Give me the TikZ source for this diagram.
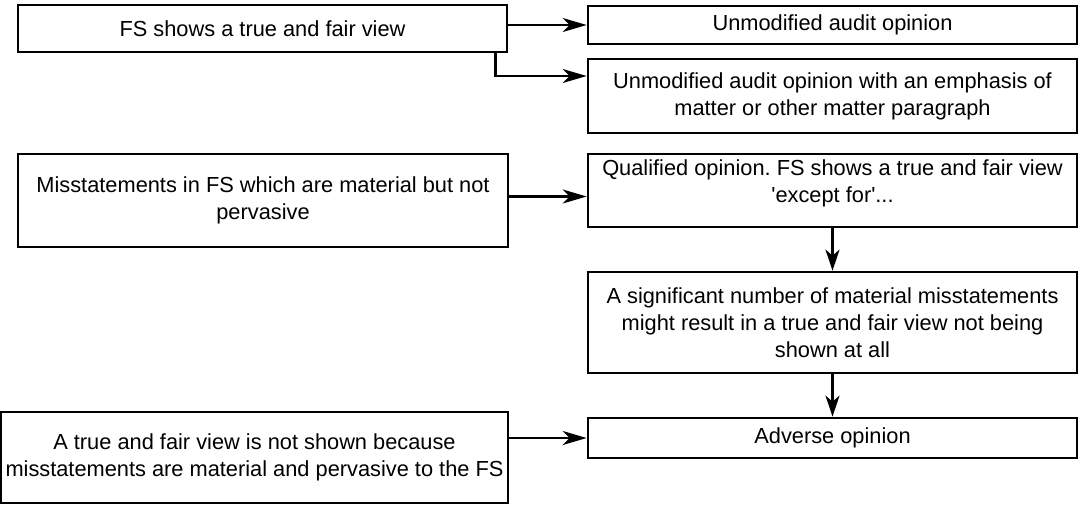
\documentclass[tikz,border=0pt]{standalone}
\usepackage{fontspec}
\setmainfont{Liberation Sans}
\usetikzlibrary{arrows.meta, positioning}
\frenchspacing

\begin{document}
\begin{tikzpicture}[x=0.5pt, y=-0.5pt,
  box/.style={
    draw, line width=1.35pt, inner sep=0pt, align=center,
    font=\fontsize{10.9}{13.5}\selectfont
  },
  leftbox/.style={box, minimum width=245pt},
  rightbox/.style={box, minimum width=244.5pt},
  flow/.style={-{Stealth[length=12pt, width=7pt, inset=3.5pt]}, line width=1.4pt},
  down/.style={-{Stealth[length=10.5pt, width=7pt, inset=3pt]}, line width=1.4pt}
]
\useasboundingbox (0,0) rectangle (1079,504);

% Left column: what the FS show
\node[leftbox, minimum width=244.5pt, minimum height=23.5pt] (fs) at (262.5, 28.5) {FS shows a true and fair view};
\node[leftbox, minimum height=46.5pt] (mis) at (263, 200.5) {Misstatements in FS which are material but not\\pervasive};
\node[leftbox, minimum width=253.5pt, minimum height=45.5pt] (tfv) at (254.5, 457.5) {A true and fair view is not shown because\\misstatements are material and pervasive to the FS};

% Right column: the opinions
\node[rightbox, minimum height=19pt] (unmod) at (832.5, 25) {Unmodified audit opinion};
\node[rightbox, minimum height=37pt] (emph) at (832.5, 96) {Unmodified audit opinion with an emphasis of\\matter or other matter paragraph};
\node[rightbox, minimum height=36.5pt] (qual) at (832.5, 190.5) {Qualified opinion. FS shows a true and fair view\\\textquotesingle except for\textquotesingle...\\[-4pt]\mbox{}};
\node[rightbox, minimum height=50.5pt] (sig) at (832.5, 322.5) {A significant number of material misstatements\\might result in a true and fair view not being\\shown at all};
\node[rightbox, minimum height=20pt] (adv) at (832.5, 438) {Adverse opinion};

% Connectors
\draw[flow] (unmod.west -| fs.east) -- (unmod.west);
\draw[flow] ([xshift=-6.5pt]fs.south east) |- ([yshift=10pt]emph.west);
\draw[flow] ([yshift=2pt]mis.east) -- ([yshift=2pt]mis.east -| qual.west);
\draw[down] (qual.south) -- (sig.north);
\draw[down] (sig.south) -- (adv.north);
\draw[flow] (adv.west -| tfv.east) -- (adv.west);

\end{tikzpicture}
\end{document}
